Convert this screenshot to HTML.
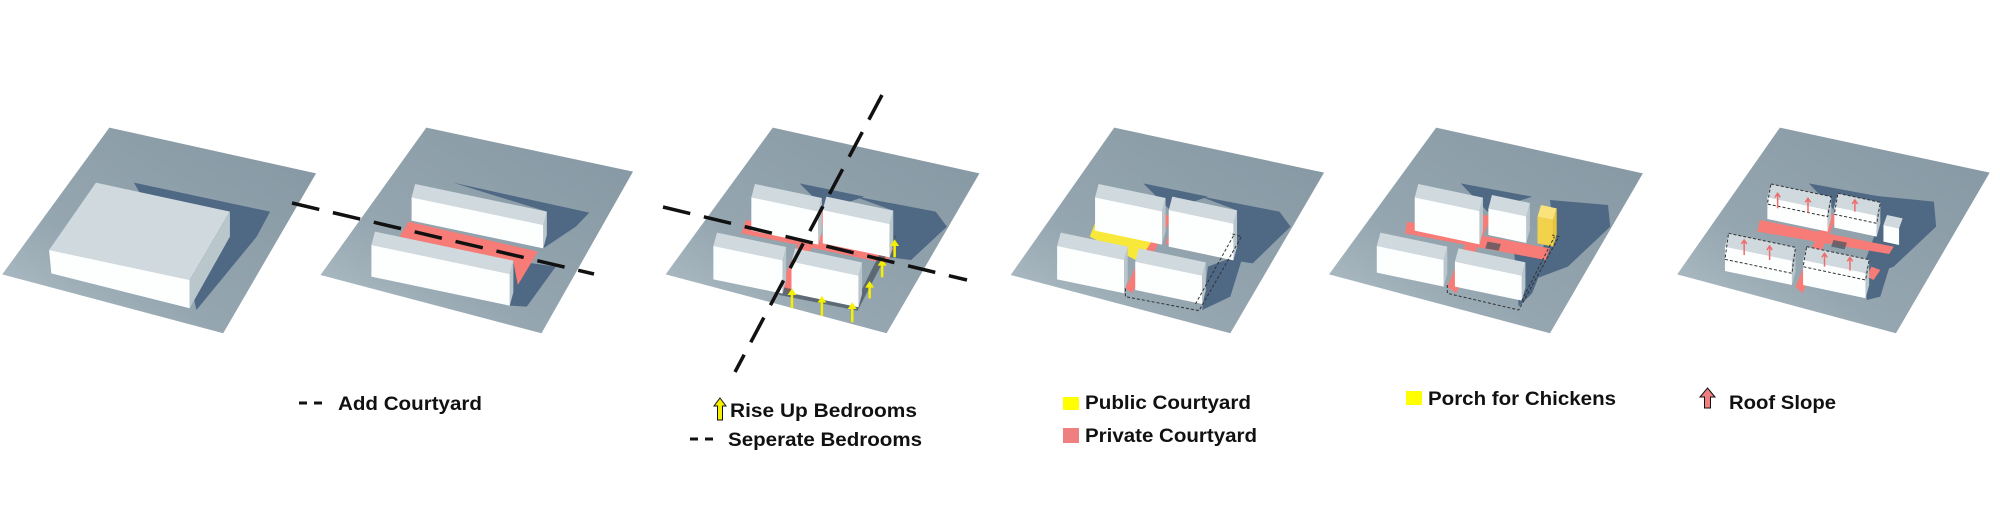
<!DOCTYPE html>
<html><head><meta charset="utf-8"><style>
html,body{margin:0;padding:0;background:#fff;width:2000px;height:521px;overflow:hidden}
svg{display:block}
text{font-family:"Liberation Sans",Arial,sans-serif;font-weight:bold;font-size:19px;fill:#111}
</style></head><body>
<svg width="2000" height="521" viewBox="0 0 2000 521" xmlns="http://www.w3.org/2000/svg">
<defs>
<linearGradient id="pg" x1="0" y1="1" x2="1" y2="0">
<stop offset="0" stop-color="#b4c2c9"/><stop offset="0.35" stop-color="#95a6b0"/><stop offset="1" stop-color="#8597a2"/>
</linearGradient>
<style>
.pl{fill:url(#pg)}
.sh{fill:#4f6884}
.tp{fill:#cfd9de}
.fr{fill:#fdfefe}
.rt{fill:#b9c6cc}
.rd{fill:#f77b76}
.ye{fill:#f7e83a}
.ya{stroke:#f5f000;stroke-width:2.5;vector-effect:non-scaling-stroke;fill:none}
.yh{fill:#f5f000}
.dk{fill:#4a5560;opacity:.75}
.do{fill:none;stroke:#333;stroke-width:1;stroke-dasharray:3 2;vector-effect:non-scaling-stroke}
.ra{stroke:#f06b6b;stroke-width:1.5;vector-effect:non-scaling-stroke}
</style>
</defs>

<!-- ZOOM 1 region (plates 1,2) -->
<g transform="translate(0,80) scale(0.4464,0.3333)">
 <polygon class="pl" points="245,143 708,280 500,760 5,583"/>
 <polygon class="sh" points="300,308 605,395 575,470 440,690 425,600"/>
 <polygon class="tp" points="215,308 515,395 425,600 110,510"/>
 <polygon class="fr" points="110,510 425,600 425,685 115,580"/>
 <polygon class="rt" points="515,395 515,470 425,685 425,600"/>

 <polygon class="pl" points="955,143 1418,275 1213,760 718,585"/>
 <polygon class="sh" points="1015,308 1320,398 1290,440 1217,505 1225,395"/>
 <polygon class="sh" points="1150,542 1245,560 1180,680 1142,677"/>
 <polygon class="rd" points="915,425 1205,515 1160,615 1150,545 895,470"/>
 <polygon class="tp" points="930,312 1225,395 1217,435 922,352"/>
 <polygon class="fr" points="922,352 1217,435 1217,505 922,422"/>
 <polygon class="rt" points="1225,395 1225,465 1217,505 1217,435"/>
 <polygon class="tp" points="840,455 1150,542 1142,582 832,495"/>
 <polygon class="fr" points="832,495 1142,582 1142,677 832,590"/>
 <polygon class="rt" points="1150,542 1150,637 1142,677 1142,582"/>
</g>

<!-- ZOOM 2 region (plates 3,4) -->
<g transform="translate(650,80) scale(0.4464,0.3333)">
 <polygon class="pl" points="275,143 738,280 530,760 35,583"/>
 <polygon class="sh" points="335,310 480,350 395,390"/>
 <polygon class="sh" points="455,348 640,395 665,440 585,540 537,532 545,392"/>
 <polygon class="rd" points="215,420 545,505 530,550 205,460"/>
 <polygon class="rd" points="365,390 400,395 315,640 290,625"/>
 <polygon class="dk" points="285,618 290,645 465,692 552,468 538,458 460,668"/>
 <polygon class="tp" points="235,312 385,354 377,394 227,352"/>
 <polygon class="fr" points="227,352 377,394 377,494 227,452"/>
 <polygon class="rt" points="385,354 385,454 377,494 377,394"/>
 <polygon class="tp" points="395,350 545,392 537,432 387,390"/>
 <polygon class="fr" points="387,390 537,432 537,532 387,490"/>
 <polygon class="rt" points="545,392 545,492 537,532 537,432"/>
 <polygon class="tp" points="150,458 305,501 297,541 142,498"/>
 <polygon class="fr" points="142,498 297,541 297,641 142,598"/>
 <polygon class="rt" points="305,501 305,601 297,641 297,541"/>
 <polygon class="tp" points="325,505 475,547 467,587 317,545"/>
 <polygon class="fr" points="317,545 467,587 467,682 317,640"/>
 <polygon class="rt" points="475,547 475,642 467,682 467,587"/>
 <g>
  <line class="ya" x1="318" y1="685" x2="318" y2="640"/><polygon class="yh" points="308,645 318,625 328,645"/>
  <line class="ya" x1="385" y1="708" x2="385" y2="663"/><polygon class="yh" points="375,668 385,648 395,668"/>
  <line class="ya" x1="453" y1="727" x2="453" y2="682"/><polygon class="yh" points="443,687 453,667 463,687"/>
  <line class="ya" x1="492" y1="655" x2="492" y2="618"/><polygon class="yh" points="482,623 492,603 502,623"/>
  <line class="ya" x1="520" y1="592" x2="520" y2="552"/><polygon class="yh" points="510,557 520,537 530,557"/>
  <line class="ya" x1="548" y1="532" x2="548" y2="493"/><polygon class="yh" points="538,498 548,478 558,498"/>
 </g>

 <polygon class="pl" points="1040,143 1510,278 1300,760 808,585"/>
 <polygon class="sh" points="1105,310 1250,350 1165,390"/>
 <polygon class="sh" points="1230,348 1410,395 1435,440 1350,550 1307,541 1315,391"/>
 <polygon class="sh" points="1250,560 1330,520 1300,650 1237,690"/>
 <polygon class="rd" points="1145,400 1170,410 1080,640 1065,625"/>
 <polygon class="rd" points="1160,470 1300,510 1295,528 1155,492"/>
 <polygon class="ye" points="1000,420 1135,460 1095,545 985,470"/>
 <polygon class="tp" points="1005,312 1155,354 1147,394 997,352"/>
 <polygon class="fr" points="997,352 1147,394 1147,494 997,452"/>
 <polygon class="rt" points="1155,354 1155,454 1147,494 1147,394"/>
 <polygon class="tp" points="1170,350 1315,391 1307,431 1162,390"/>
 <polygon class="fr" points="1162,390 1307,431 1307,541 1162,500"/>
 <polygon class="rt" points="1315,391 1315,501 1307,541 1307,431"/>
 <polygon class="tp" points="920,458 1070,500 1062,540 912,498"/>
 <polygon class="fr" points="912,498 1062,540 1062,640 912,598"/>
 <polygon class="rt" points="1070,500 1070,600 1062,640 1062,540"/>
 <polygon class="tp" points="1095,505 1245,547 1237,587 1087,545"/>
 <polygon class="fr" points="1087,545 1237,587 1237,672 1087,630"/>
 <polygon class="rt" points="1245,547 1245,632 1237,672 1237,587"/>
 <polyline class="do" points="1065,625 1065,650 1230,692 1325,470 1300,460"/>
 <line class="do" x1="1222" y1="672" x2="1308" y2="465"/>
</g>

<!-- ZOOM 3 region (plates 5,6) -->
<g transform="translate(1300,80) scale(0.4464,0.3333)">
 <polygon class="pl" points="305,143 768,280 560,760 65,583"/>
 <polygon class="sh" points="360,310 520,350 420,395"/>
 <polygon class="sh" points="560,360 690,375 695,440 600,560 520,600 565,420"/>
 <polygon class="sh" points="480,520 560,505 520,640 490,680"/>
 <polygon class="rd" points="240,425 560,505 550,540 235,460"/>
 <polygon class="rd" points="400,400 430,410 350,640 330,620"/>
 <polygon class="dk" points="420,485 450,492 445,512 415,505"/>
 <polygon class="tp" points="265,312 410,353 402,393 257,352"/>
 <polygon class="fr" points="257,352 402,393 402,493 257,452"/>
 <polygon class="rt" points="410,353 410,453 402,493 402,393"/>
 <polygon class="tp" points="430,345 515,369 507,409 422,385"/>
 <polygon class="fr" points="422,385 507,409 507,489 422,465"/>
 <polygon class="rt" points="515,369 515,449 507,489 507,409"/>
 <polygon fill="#f9e37a" points="540,375 575,385 567,420 532,410"/>
 <polygon fill="#f2d24a" points="532,410 567,420 567,500 532,490"/>
 <polygon fill="#e9c63e" points="575,385 575,465 567,500 567,420"/>
 <polygon class="tp" points="180,458 330,500 322,540 172,498"/>
 <polygon class="fr" points="172,498 322,540 322,620 172,578"/>
 <polygon class="rt" points="330,500 330,580 322,620 322,540"/>
 <polygon class="tp" points="355,505 505,547 497,587 347,545"/>
 <polygon class="fr" points="347,545 497,587 497,662 347,620"/>
 <polygon class="rt" points="505,547 505,622 497,662 497,587"/>
 <polyline class="do" points="330,615 330,640 490,690 580,470 565,465"/>
 <line class="do" x1="497" y1="662" x2="570" y2="470"/>

 <polygon class="pl" points="1075,143 1545,278 1335,760 845,583"/>
 <polygon class="sh" points="1140,310 1300,350 1200,395"/>
 <polygon class="sh" points="1270,345 1420,365 1425,440 1330,560 1250,600 1300,420"/>
 <polygon class="sh" points="1260,560 1330,520 1300,650 1270,660"/>
 <polygon class="rd" points="1030,420 1330,500 1320,522 1025,455"/>
 <polygon class="rd" points="1180,400 1205,405 1125,640 1110,620"/>
 <polygon class="rd" points="1280,560 1300,570 1285,600 1270,590"/>
 <polygon class="dk" points="1195,480 1225,488 1220,508 1190,500"/>
 <polygon class="tp" points="1055,312 1190,350 1182,390 1047,352"/>
 <polygon class="fr" points="1047,352 1182,390 1182,455 1047,417"/>
 <polygon class="rt" points="1190,350 1190,415 1182,455 1182,390"/>
 <polygon class="tp" points="1205,340 1300,367 1292,407 1197,380"/>
 <polygon class="fr" points="1197,380 1292,407 1292,470 1197,443"/>
 <polygon class="rt" points="1300,367 1300,430 1292,470 1292,407"/>
 <polygon class="tp" points="1315,405 1350,415 1342,445 1307,435"/>
 <polygon class="fr" points="1307,435 1342,445 1342,495 1307,485"/>
 <polygon class="tp" points="960,460 1110,502 1102,542 952,500"/>
 <polygon class="fr" points="952,500 1102,542 1102,615 952,573"/>
 <polygon class="rt" points="1110,502 1110,575 1102,615 1102,542"/>
 <polygon class="tp" points="1135,500 1275,539 1267,579 1127,540"/>
 <polygon class="fr" points="1127,540 1267,579 1267,655 1127,615"/>
 <polygon class="rt" points="1275,539 1275,615 1267,655 1267,579"/>
 <polygon class="do" points="1055,312 1190,350 1182,410 1047,372"/>
 <polygon class="do" points="1205,340 1300,367 1292,430 1197,403"/>
 <polygon class="do" points="960,460 1110,502 1102,580 952,538"/>
 <polygon class="do" points="1135,500 1275,539 1267,600 1127,560"/>
 <g>
  <line class="ra" x1="1070" y1="385" x2="1070" y2="340"/><line class="ra" x1="1138" y1="398" x2="1138" y2="355"/>
  <line class="ra" x1="1243" y1="395" x2="1243" y2="360"/>
  <line class="ra" x1="995" y1="525" x2="995" y2="480"/><line class="ra" x1="1052" y1="540" x2="1052" y2="498"/>
  <line class="ra" x1="1175" y1="560" x2="1175" y2="520"/><line class="ra" x1="1232" y1="572" x2="1232" y2="532"/>
  <polyline class="ra" fill="none" points="1064,352 1070,340 1076,352"/><polyline class="ra" fill="none" points="1132,367 1138,355 1144,367"/>
  <polyline class="ra" fill="none" points="1237,372 1243,360 1249,372"/>
  <polyline class="ra" fill="none" points="989,492 995,480 1001,492"/><polyline class="ra" fill="none" points="1046,510 1052,498 1058,510"/>
  <polyline class="ra" fill="none" points="1169,532 1175,520 1181,532"/><polyline class="ra" fill="none" points="1226,544 1232,532 1238,544"/>
 </g>
</g>

<!-- dashed section lines -->
<g stroke="#111" stroke-width="3.5" stroke-dasharray="28 14" fill="none">
 <line x1="292" y1="203" x2="594" y2="274"/>
 <line x1="663" y1="207" x2="967" y2="280"/>
 <line x1="882" y1="95" x2="735" y2="372"/>
</g>

<!-- legends -->
<g stroke="#111" stroke-width="3">
 <line x1="299" y1="403" x2="307" y2="403"/><line x1="314" y1="403" x2="322" y2="403"/>
 <line x1="690" y1="439" x2="698" y2="439"/><line x1="705" y1="439" x2="713" y2="439"/>
</g>
<text x="338" y="410" textLength="144" lengthAdjust="spacingAndGlyphs">Add Courtyard</text>
<polygon points="720,398 726,406 722.5,406 722.5,420 717.5,420 717.5,406 714,406" fill="#f5f000" stroke="#111" stroke-width="1"/>
<text x="730" y="417" textLength="187" lengthAdjust="spacingAndGlyphs">Rise Up Bedrooms</text>
<text x="728" y="446" textLength="194" lengthAdjust="spacingAndGlyphs">Seperate Bedrooms</text>
<rect x="1063" y="397" width="16" height="13" fill="#ffff00"/>
<text x="1085" y="409" textLength="166" lengthAdjust="spacingAndGlyphs">Public Courtyard</text>
<rect x="1063" y="428" width="16" height="15" fill="#f08080"/>
<text x="1085" y="442" textLength="172" lengthAdjust="spacingAndGlyphs">Private Courtyard</text>
<rect x="1406" y="391" width="16" height="14" fill="#ffff00"/>
<text x="1428" y="405" textLength="188" lengthAdjust="spacingAndGlyphs">Porch for Chickens</text>
<polygon points="1707.5,388 1715,397 1710.5,397 1710.5,408 1704.5,408 1704.5,397 1700,397" fill="#f08080" stroke="#111" stroke-width="1"/>
<text x="1729" y="409" textLength="107" lengthAdjust="spacingAndGlyphs">Roof Slope</text>
</svg>
</body></html>
